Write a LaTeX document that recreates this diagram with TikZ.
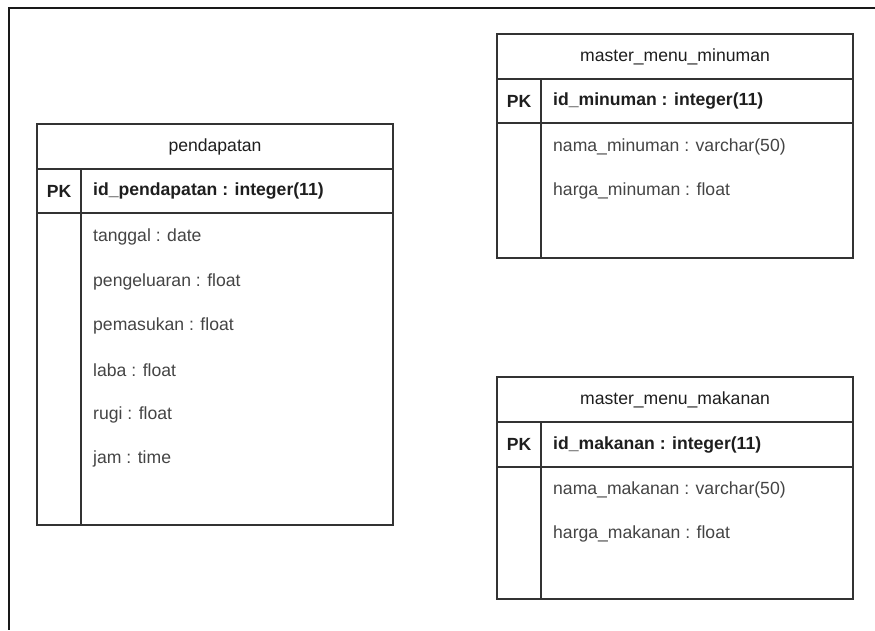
\documentclass[tikz,border=0pt]{standalone}
\usepackage{fontspec}
\setmainfont{Liberation Sans}
\definecolor{edge}{HTML}{333333}
\definecolor{ink}{HTML}{1E1E1E}
\definecolor{soft}{HTML}{444444}
\newcommand{\erfont}{\fontsize{17.6}{21}\selectfont}

\tikzset{
    tbl/.style={draw=edge, line width=1.4pt},
    hdr/.style={font=\erfont, text=ink, inner sep=0pt},
    key/.style={font=\erfont\bfseries, text=ink, inner sep=0pt},
    fld/.style={font=\erfont, text=soft, inner sep=0pt, anchor=west},
}

\begin{document}
\begin{tikzpicture}[x=1pt, y=-1pt]
\useasboundingbox (0,0) rectangle (875,630);

% page frame
\draw[line width=2pt, black!90] (875,8) -- (9,8) -- (9,630);

% pendapatan
\draw[tbl] (37,124) rectangle (393,525);
\draw[tbl] (37,169) -- (393,169);
\draw[tbl] (37,213) -- (393,213);
\draw[tbl] (81,169) -- (81,525);
\node[hdr] (pendapatan) at (215,146.5) {pendapatan};
\node[key] (pkPendapatan) at (59,191) {PK};
\node[key, anchor=west] (idPendapatan) at (93,191) {id\_pendapatan : integer(11)};
\node[fld] (tanggal) at (93,237) {tanggal : date};
\node[fld] (pengeluaran) at (93,281.5) {pengeluaran : float};
\node[fld] (pemasukan) at (93,326) {pemasukan : float};
\node[fld] (laba) at (93,370.5) {laba : float};
\node[fld] (rugi) at (93,415) {rugi : float};
\node[fld] (jam) at (93,459) {jam : time};

% master_menu_minuman
\draw[tbl] (497,34) rectangle (853,258);
\draw[tbl] (497,79) -- (853,79);
\draw[tbl] (497,123) -- (853,123);
\draw[tbl] (541,79) -- (541,258);
\node[hdr] (minuman) at (675,56.5) {master\_menu\_minuman};
\node[key] (pkMinuman) at (519,101) {PK};
\node[key, anchor=west] (idMinuman) at (553,101) {id\_minuman : integer(11)};
\node[fld] (namaMinuman) at (553,147) {nama\_minuman : varchar(50)};
\node[fld] (hargaMinuman) at (553,191) {harga\_minuman : float};

% master_menu_makanan
\draw[tbl] (497,377) rectangle (853,599);
\draw[tbl] (497,422) -- (853,422);
\draw[tbl] (497,467) -- (853,467);
\draw[tbl] (541,422) -- (541,599);
\node[hdr] (makanan) at (675,399.5) {master\_menu\_makanan};
\node[key] (pkMakanan) at (519,444.5) {PK};
\node[key, anchor=west] (idMakanan) at (553,444.5) {id\_makanan : integer(11)};
\node[fld] (namaMakanan) at (553,490) {nama\_makanan : varchar(50)};
\node[fld] (hargaMakanan) at (553,534) {harga\_makanan : float};

\end{tikzpicture}
\end{document}
